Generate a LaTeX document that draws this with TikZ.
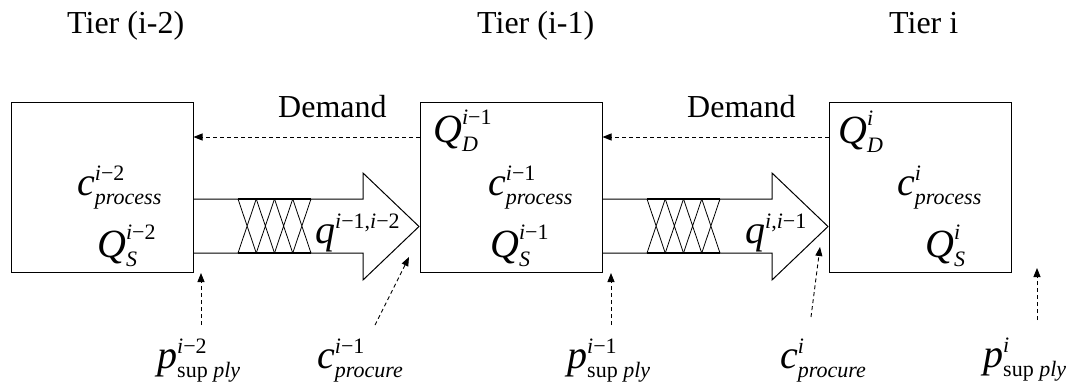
\documentclass[tikz,border=0pt]{standalone}
\usepackage{fix-cm}
\usepackage{amsmath}
\usepackage{fontspec}
\setmainfont{Liberation Serif}
\usetikzlibrary{arrows.meta}
\DeclareMathSizes{40}{40}{22}{16}
\newcommand\mtxt[1]{\textit{#1}}
\begin{document}
\begin{tikzpicture}[x=1pt,y=-1pt,
  box/.style={draw, line width=1pt, minimum width=182pt, minimum height=170pt, inner sep=0pt},
  lab/.style={anchor=base west, inner sep=0pt, font=\fontsize{32}{38}\selectfont},
  mlab/.style={anchor=base west, inner sep=0pt, font=\fontsize{40}{48}\selectfont},
  dasharrow/.style={dash pattern=on 4pt off 3pt, line width=0.9pt, -{Triangle[length=9pt,width=7pt]}},
  fat/.style={draw, line width=1pt, line join=miter},
  hatch/.style={line width=0.8pt},
  hbar/.style={line width=2pt}]
\useasboundingbox (0,0) rectangle (1069,388);

% tier labels
\node[lab] (tier1) at (67,33) {Tier (i-2)};
\node[lab] (tier2) at (477,33) {Tier (i-1)};
\node[lab] (tier3) at (889,33) {Tier i};

% boxes
\node[box] (box1) at (102,187) {};
\node[box] (box2) at (511,187) {};
\node[box] (box3) at (920,187) {};

% demand arrows
\draw[dasharrow] ([yshift=50pt]box2.west) -- ([yshift=50pt]box1.east);
\draw[dasharrow] ([yshift=50pt]box3.west) -- ([yshift=50pt]box2.east);
\node[lab] (dem1) at (278,117) {Demand};
\node[lab] (dem2) at (687,117) {Demand};

% fat arrows
\draw[fat] (193,199) -- (363,199) -- (363,173) -- (419,226.5) -- (363,280) -- (363,253) -- (193,253);
\draw[fat] (602,199) -- (772,199) -- (772,173) -- (828,226.5) -- (772,280) -- (772,253) -- (602,253);

% hatching
\foreach \x in {238,647}{
  \foreach \k in {0,...,3}{
    \draw[hatch] ({\x+18.25*\k},199) -- ({\x+18.25*(\k+1)},253)
                 ({\x+18.25*(\k+1)},199) -- ({\x+18.25*\k},253);
  }
  \draw[hbar] (\x,199) -- ({\x+73},199) (\x,253) -- ({\x+73},253);
}

% box contents
\node[mlab] (c1) at (77,195) {$\mtxt{c}^{\text{\mtxt{i}−2}}_{\mtxt{process}}$};
\node[mlab] (qs1) at (97,257) {$\mtxt{Q}^{\text{\mtxt{i}−2}}_{\mtxt{S}}$};
\node[mlab] (qd2) at (433,142) {$\mtxt{Q}^{\text{\mtxt{i}−1}}_{\mtxt{D}}$};
\node[mlab] (c2) at (488,195) {$\mtxt{c}^{\text{\mtxt{i}−1}}_{\mtxt{process}}$};
\node[mlab] (qs2) at (490,257) {$\mtxt{Q}^{\text{\mtxt{i}−1}}_{\mtxt{S}}$};
\node[mlab] (qd3) at (838,143) {$\mtxt{Q}^{\mtxt{i}}_{\mtxt{D}}$};
\node[mlab] (c3) at (897,195) {$\mtxt{c}^{\mtxt{i}}_{\mtxt{process}}$};
\node[mlab] (qs3) at (925,257) {$\mtxt{Q}^{\mtxt{i}}_{\mtxt{S}}$};

% flow labels
\node[mlab] (q1) at (315,243) {$\mtxt{q}^{\text{\mtxt{i}−1,\mtxt{i}−2}}$};
\node[mlab] (q2) at (745,243) {$\mtxt{q}^{\text{\mtxt{i},\mtxt{i}−1}}$};

% bottom labels
\node[mlab] (p1) at (157,368) {$\mtxt{p}^{\text{\mtxt{i}−2}}_{\text{sup \mtxt{ply}}}$};
\node[mlab] (cp1) at (317,368) {$\mtxt{c}^{\text{\mtxt{i}−1}}_{\mtxt{procure}}$};
\node[mlab] (p2) at (567,368) {$\mtxt{p}^{\text{\mtxt{i}−1}}_{\text{sup \mtxt{ply}}}$};
\node[mlab] (cp2) at (780,368) {$\mtxt{c}^{\mtxt{i}}_{\mtxt{procure}}$};
\node[mlab] (p3) at (983,367) {$\mtxt{p}^{\mtxt{i}}_{\text{sup \mtxt{ply}}}$};

% upward dashed arrows
\coordinate (s1) at (201,325); \coordinate (t1) at (201,273);
\coordinate (s2) at (375,325); \coordinate (t2) at (409,257);
\coordinate (s3) at (611,325); \coordinate (t3) at (611,273);
\coordinate (s4) at (811,317); \coordinate (t4) at (820,247);
\coordinate (s5) at (1037,320); \coordinate (t5) at (1037,268);
\foreach \i in {1,...,5}{\draw[dasharrow] (s\i) -- (t\i);}
\end{tikzpicture}
\end{document}
